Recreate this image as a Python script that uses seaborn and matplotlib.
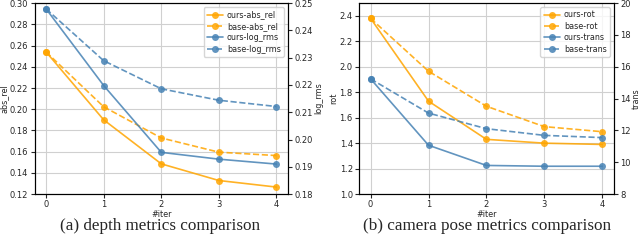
import numpy as np
import matplotlib
matplotlib.use('Agg')
import matplotlib.pyplot as plt
import seaborn as sns

iters = [0, 1, 2, 3, 4]

ours_abs_rel = [0.254, 0.190, 0.1485, 0.1328, 0.1266]
base_abs_rel = [0.254, 0.2023, 0.1729, 0.1595, 0.1563]
ours_log_rms = [0.2479, 0.2198, 0.1953, 0.1928, 0.1910]
base_log_rms = [0.2479, 0.2289, 0.2186, 0.2144, 0.2121]

ours_rot = [2.38, 1.73, 1.43, 1.40, 1.39]
base_rot = [2.38, 1.965, 1.69, 1.53, 1.49]
ours_trans = [15.24, 11.07, 9.80, 9.75, 9.75]
base_trans = [15.24, 13.09, 12.11, 11.69, 11.55]

ORANGE = '#FFA500'
BLUE = '#4682B4'

sns.set_style('ticks')
plt.rcParams['font.family'] = ['DejaVu Sans']

fig = plt.figure(figsize=(6.4, 2.42), dpi=100)
ax1 = fig.add_axes([0.054, 0.198, 0.396, 0.789])
ax3 = fig.add_axes([0.561, 0.198, 0.398, 0.789])


def panel(ax, left_o, left_b, right_o, right_b, names, ylab, ylab2, ylim, ylim2, yticks2):
    kw = dict(marker='o', markersize=5, markeredgewidth=0, alpha=0.85, linewidth=1.2, legend=False)
    sns.lineplot(x=iters, y=left_o, ax=ax, color=ORANGE, label=names[0], **kw)
    sns.lineplot(x=iters, y=left_b, ax=ax, color=ORANGE, linestyle='--', label=names[1], **kw)
    ax2 = ax.twinx()
    sns.lineplot(x=iters, y=right_o, ax=ax2, color=BLUE, label=names[2], **kw)
    sns.lineplot(x=iters, y=right_b, ax=ax2, color=BLUE, linestyle='--', label=names[3], **kw)
    ax.set_ylim(*ylim)
    ax2.set_ylim(*ylim2)
    ax2.set_yticks(yticks2)
    ax.set_xticks(iters)
    ax.grid(True, color='#d0d0d0', linewidth=0.8)
    ax.set_xlabel('#iter', fontsize=5.8, labelpad=0.5)
    ax.set_ylabel(ylab, fontsize=5.8, labelpad=1)
    ax2.set_ylabel(ylab2, fontsize=5.8, labelpad=1)
    for a in (ax, ax2):
        a.tick_params(labelsize=6, length=3, width=0.8, pad=1.5)
        for s in a.spines.values():
            s.set_linewidth(0.8)
            s.set_color('black')
    h1, l1 = ax.get_legend_handles_labels()
    h2, l2 = ax2.get_legend_handles_labels()
    ax2.legend(h1 + h2, l1 + l2, loc='upper right', fontsize=5.8, frameon=True,
               borderpad=0.4, labelspacing=0.3, handlelength=2.0, handletextpad=0.5)
    return ax2


panel(ax1, ours_abs_rel, base_abs_rel, ours_log_rms, base_log_rms,
      ['ours-abs_rel', 'base-abs_rel', 'ours-log_rms', 'base-log_rms'],
      'abs_rel', 'log_rms', (0.12, 0.30), (0.18, 0.25),
      [0.18, 0.19, 0.20, 0.21, 0.22, 0.23, 0.24, 0.25])
panel(ax3, ours_rot, base_rot, ours_trans, base_trans,
      ['ours-rot', 'base-rot', 'ours-trans', 'base-trans'],
      'rot', 'trans', (1.0, 2.5), (8, 20), [8, 10, 12, 14, 16, 18, 20])
ax1.set_yticks([0.12, 0.14, 0.16, 0.18, 0.20, 0.22, 0.24, 0.26, 0.28, 0.30])
ax3.set_yticks([1.0, 1.2, 1.4, 1.6, 1.8, 2.0, 2.2, 2.4])

fig.text(160 / 640, 1 - 226 / 242, '(a) depth metrics comparison', ha='center', va='center',
         fontsize=12.3, family='Liberation Serif')
fig.text(487 / 640, 1 - 226 / 242, '(b) camera pose metrics comparison', ha='center', va='center',
         fontsize=12.3, family='Liberation Serif')

fig.savefig('out.png', dpi=100)
